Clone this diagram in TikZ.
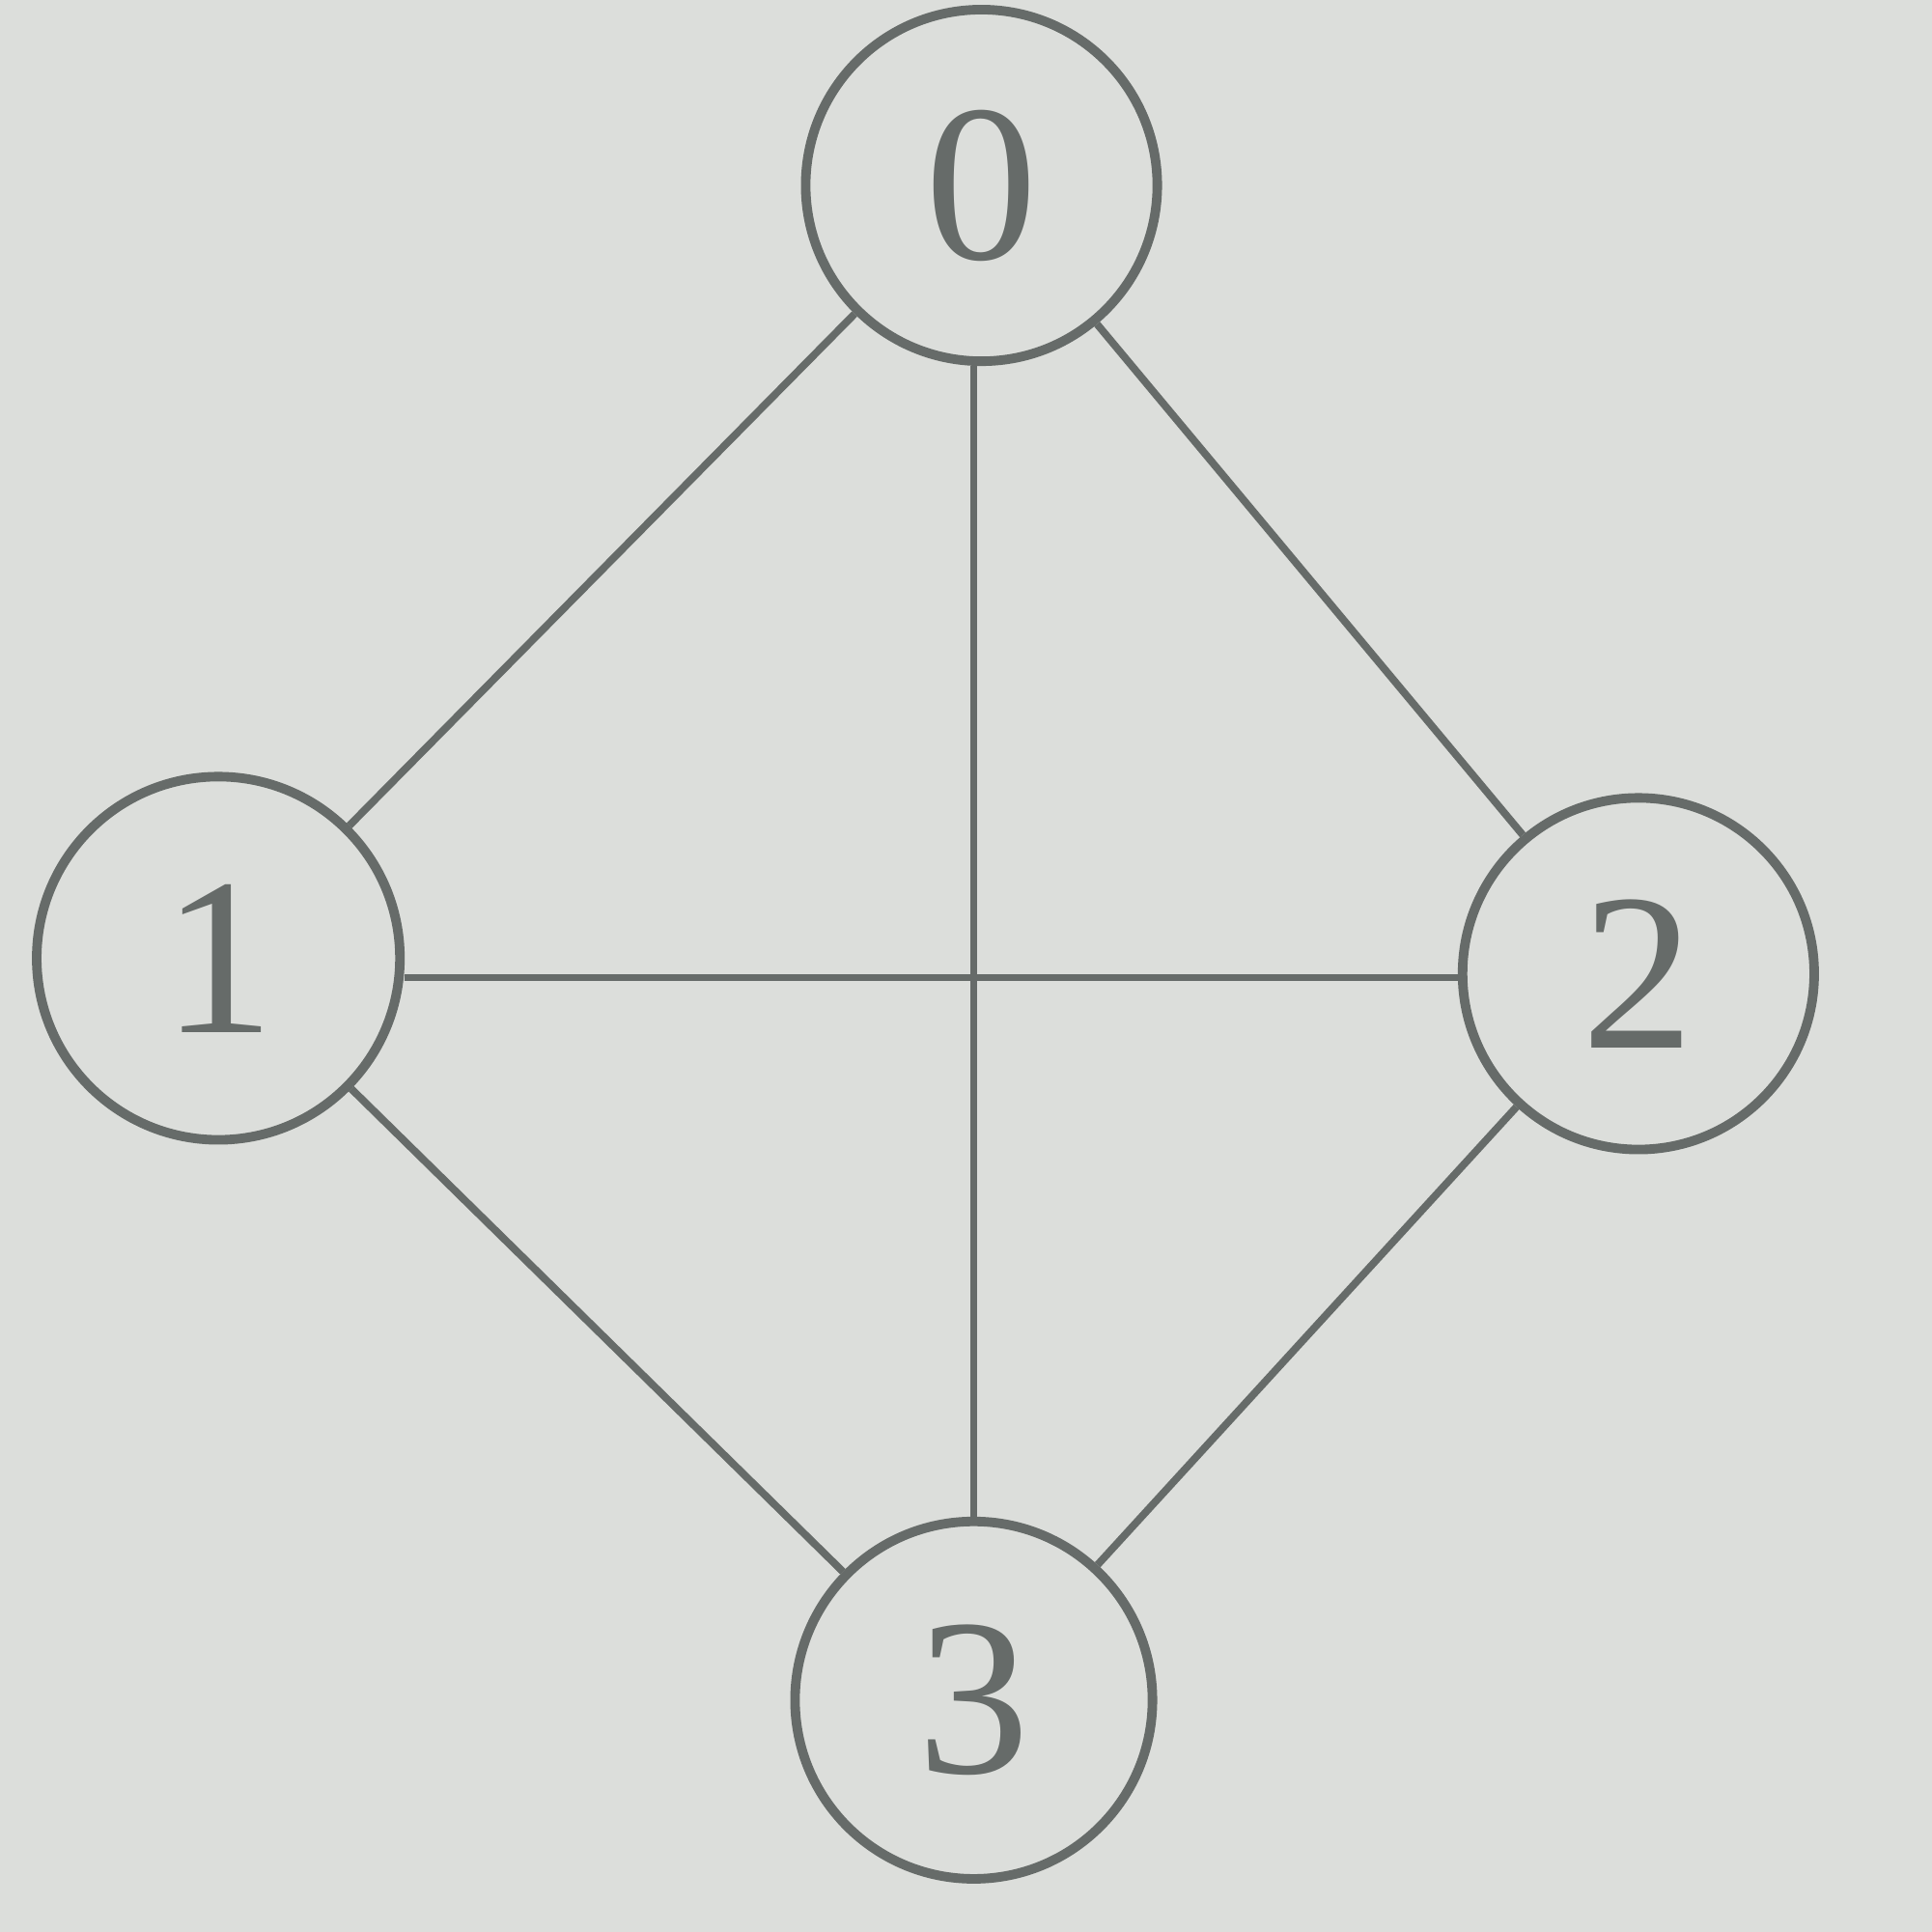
\documentclass[tikz,border=0pt]{standalone}
\usepackage{fontspec}
\setmainfont{Liberation Serif}
\usepackage{tikz}
\usepackage{xcolor}
\definecolor{paper}{HTML}{DCDEDB}
\definecolor{ink}{HTML}{666B69}

\begin{document}
\begin{tikzpicture}[
        vert/.style={draw=ink, line width=1.4pt, circle, minimum size=1.82cm, inner sep=0pt,
            text=ink, font=\fontsize{33}{36}\selectfont},
        edge/.style={draw=ink, line width=1.1pt}
    ]
        % background and frame
        \fill[paper] (0,0) rectangle (10,10);
        \useasboundingbox (0,0) rectangle (10,10);

        \node[vert] (v0) at (5.08,9.04) {0};
        \node[vert, minimum size=1.88cm] (v1) at (1.13,5.04) {1};
        \node[vert] (v2) at (8.48,4.96) {2};
        \node[vert, minimum size=1.85cm] (v3) at (5.04,1.20) {3};

        \draw[edge] (v0) -- (v1);
        \draw[edge] (v0) -- (v2);
        \draw[edge] (v0.south) ++(-0.04,0) coordinate (t0) -- (t0 |- v3.north);
        \draw[edge] (v1.east) ++(0,-0.1) coordinate (t1) -- (t1 -| v2.west);
        \draw[edge] (v1) -- (v3);
        \draw[edge] (v2) -- (v3);
    \end{tikzpicture}
\end{document}
